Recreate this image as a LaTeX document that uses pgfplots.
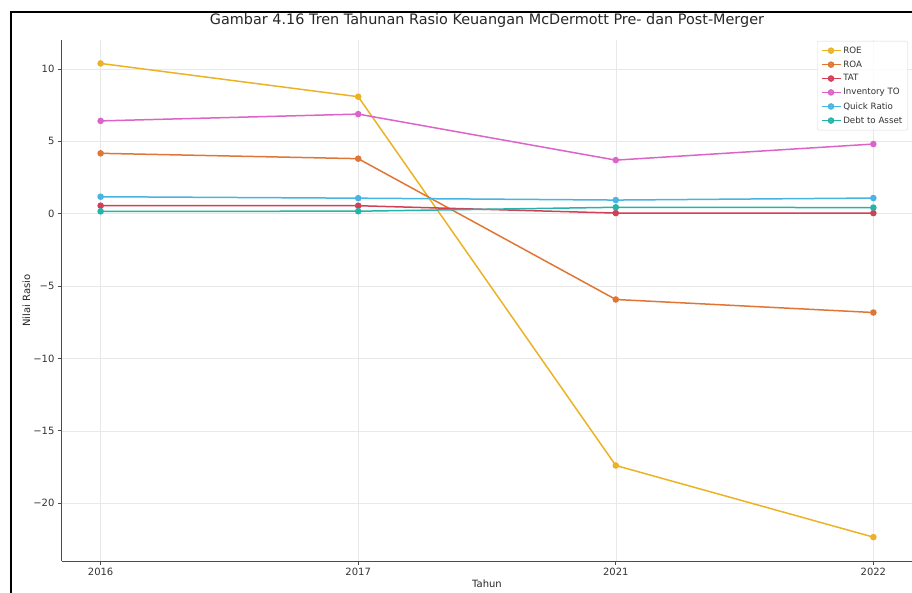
\documentclass[border=0pt]{standalone}
\usepackage{pgfplots}
\pgfplotsset{compat=1.18}
\usepackage{fontspec}
\setmainfont{DejaVu Sans}

\definecolor{cROE}{RGB}{236,178,38}
\definecolor{cROA}{RGB}{224,118,54}
\definecolor{cTAT}{RGB}{212,62,86}
\definecolor{cINV}{RGB}{220,100,200}
\definecolor{cQR}{RGB}{72,180,226}
\definecolor{cDTA}{RGB}{36,180,168}

\begin{document}
\begin{tikzpicture}[x=1pt,y=1pt]
\useasboundingbox (0,0) rectangle (912,592);
\begin{axis}[
  at={(62pt,31pt)}, anchor=south west,
  scale only axis, width=850pt, height=521pt,
  xmin=-0.15, xmax=3.15, ymin=-24, ymax=12,
  axis x line*=bottom, axis y line*=left,
  axis line style={draw=black!70, line width=1pt},
  xtick={0,1,2,3}, xticklabels={2016,2017,2021,2022},
  ytick={-20,-15,-10,-5,0,5,10},
  yticklabels={−20,−15,−10,−5,0,5,10},
  tick align=outside, major tick length=4pt,
  tick style={draw=black!70, line width=0.8pt},
  ticklabel style={font=\fontsize{10}{12}\selectfont, text=black!80},
  /pgf/number format/assume math mode=true,
  grid=major, grid style={draw=gray!18, line width=0.5pt},
  title={Gambar 4.16 Tren Tahunan Rasio Keuangan McDermott Pre- dan Post-Merger},
  title style={font=\fontsize{14.4}{17}\selectfont, text=black!85, at={(0.5,1)}, anchor=base, yshift=9pt},
  xlabel={Tahun},
  xlabel style={font=\fontsize{10}{12}\selectfont, text=black!85, at={(axis description cs:0.5,0)}, anchor=center, yshift=-23pt},
  ylabel={Nilai Rasio},
  ylabel style={font=\fontsize{10}{12}\selectfont, text=black!85, at={(axis description cs:-0.042,0.5)}, anchor=center},
  legend style={at={(1,1)}, anchor=north east, xshift=-4pt, yshift=-1pt,
    font=\fontsize{8.7}{10}\selectfont, text=black!80, draw=gray!30, rounded corners=2pt,
    fill=white, fill opacity=0.85, text opacity=1, inner sep=3.5pt, row sep=2pt},
  legend cell align=left,
  legend image code/.code={%
    \draw[mark repeat=2,mark phase=2,#1] plot coordinates {(0pt,0pt) (9.5pt,0pt) (19pt,0pt)};},
  every axis plot/.append style={line width=1.5pt, mark=*, mark size=2.5pt},
]
\addplot[cROE] coordinates {(0,10.38) (1,8.08) (2,-17.40) (3,-22.35)};
\addlegendentry{ROE}
\addplot[cROA] coordinates {(0,4.17) (1,3.80) (2,-5.93) (3,-6.83)};
\addlegendentry{ROA}
\addplot[cTAT] coordinates {(0,0.55) (1,0.55) (2,0.04) (3,0.04)};
\addlegendentry{TAT}
\addplot[cINV] coordinates {(0,6.41) (1,6.88) (2,3.70) (3,4.81)};
\addlegendentry{Inventory TO}
\addplot[cQR] coordinates {(0,1.17) (1,1.07) (2,0.94) (3,1.08)};
\addlegendentry{Quick Ratio}
\addplot[cDTA] coordinates {(0,0.16) (1,0.17) (2,0.44) (3,0.42)};
\addlegendentry{Debt to Asset}
\end{axis}
\draw[line width=1.6pt] (11,-5) -- (11,580) -- (925,580);
\end{tikzpicture}
\end{document}
